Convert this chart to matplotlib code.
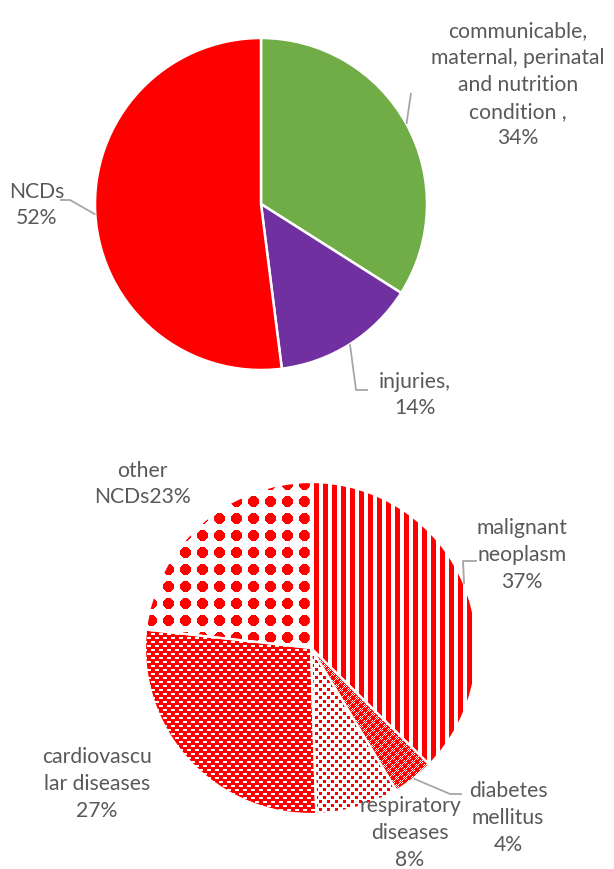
import numpy as np
import matplotlib
matplotlib.use('Agg')
import matplotlib.pyplot as plt
from matplotlib.patches import Polygon

# figure size in pixels, 1 data unit = 1 pixel
W, H = 614, 870

# top pie: all causes
top_labels = ['communicable,\nmaternal, perinatal\nand nutrition\ncondition ,\n34%',
              'injuries,\n14%',
              'NCDs\n52%']
top_values = [34, 14, 52]
top_colors = ['#70ad47', '#7030a0', '#ff0000']

# bottom pie: breakdown of NCDs
ncd_labels = ['malignant\nneoplasm\n37%',
              'diabetes\nmellitus\n4%',
              'respiratory\ndiseases\n8%',
              'cardiovascu\nlar diseases\n27%',
              'other\nNCDs23%']
ncd_values = [37, 4, 8, 27, 23]
ncd_patterns = ['stripes', 'checker', 'dots', 'dashes', 'diamonds']

# layout (screen pixels, y measured from top)
top_center, top_r = (261, 205), 166
ncd_center, ncd_r = (311, 649), 166
top_text_pos = [(518, 85), (415, 395), (37, 205)]
ncd_text_pos = [(522, 555), (508, 818), (410, 833), (97, 784), (142, 484)]
top_leaders = [[(411, 94)], [(356, 391), (368, 391)], [(70, 201), (60, 201)]]
ncd_leaders = [[(463, 562), (477, 562)], [(450, 795), (462, 795)], None, None, None]

TXT = '#595959'
LINE = '#a6a6a6'
FONT = ['Lato', 'DejaVu Sans']
FS = 15.2
LSP = 1.42


def Y(y):
    return H - y


def tile(kind):
    if kind == 'stripes':
        t = np.zeros((1, 9))
        t[0, :5] = 1
    elif kind == 'checker':
        t = np.zeros((8, 8))
        fine = (np.add.outer(np.arange(8), np.arange(8)) % 2 == 0)
        t[:] = fine
        t[:4, :4] = 1
        t[4:, 4:] = 1
    elif kind == 'dots':
        t = np.zeros((8, 8))
        t[0:3, 0:3] = 1
        t[4:7, 4:7] = 1
    elif kind == 'dashes':
        t = np.ones((8, 8))
        t[1:3, 0:4] = 0
        t[5:7, 4:8] = 0
    else:
        t = np.zeros((17, 17))
        yy, xx = np.mgrid[0:17, 0:17] - 8
        t[(np.abs(xx) + np.abs(yy) <= 7) & (np.maximum(np.abs(xx), np.abs(yy)) <= 5)] = 1
    return t


def wedge_poly(wedge, cx, cy, r):
    th = np.deg2rad(np.linspace(wedge.theta1, wedge.theta2, 200))
    pts = np.column_stack([cx + r * np.cos(th), cy + r * np.sin(th)])
    pts = np.vstack([[cx, cy], pts])
    return pts


def fill_pattern(ax, wedge, kind, cx, cy, r):
    t = tile(kind)
    x0, y0 = int(cx - r) - 2, int(cy - r) - 2
    size = int(2 * r) + 4
    ny = size // t.shape[0] + 2
    nx = size // t.shape[1] + 2
    big = np.tile(t, (ny, nx))
    rgb = np.ones(big.shape + (3,))
    rgb[big == 1] = (1.0, 0.0, 0.0)
    h, w = big.shape
    im = ax.imshow(rgb, extent=(x0, x0 + w, y0, y0 + h), origin='upper',
                   interpolation='nearest', zorder=2)
    clip = Polygon(wedge_poly(wedge, cx, cy, r), closed=True, transform=ax.transData)
    im.set_clip_path(clip)


def leader(ax, wedge, center, r, pts):
    cx, cy = center
    th = np.deg2rad((wedge.theta1 + wedge.theta2) / 2)
    xs = [cx + r * np.cos(th)] + [p[0] for p in pts]
    ys = [Y(cy) + r * np.sin(th)] + [Y(p[1]) for p in pts]
    ax.plot(xs, ys, color=LINE, lw=1.3, zorder=4, solid_capstyle='butt')


fig = plt.figure(figsize=(W / 100, H / 100), dpi=100)
ax = fig.add_axes([0, 0, 1, 1])

# top pie
wedges, _ = ax.pie(top_values, colors=top_colors, startangle=90, counterclock=False,
                   radius=top_r, center=(top_center[0], Y(top_center[1])),
                   wedgeprops=dict(edgecolor='white', linewidth=1.8))
for w, lab, pos, pts in zip(wedges, top_labels, top_text_pos, top_leaders):
    ax.text(pos[0], Y(pos[1]), lab, ha='center', va='center', multialignment='center',
            fontsize=FS, color=TXT, family=FONT, linespacing=LSP, zorder=5)
    if pts:
        leader(ax, w, top_center, top_r, pts)

# bottom pie with patterns
cx, cy = ncd_center[0], Y(ncd_center[1])
wedges, _ = ax.pie(ncd_values, colors=['white'] * len(ncd_values), startangle=90,
                   counterclock=False, radius=ncd_r, center=(cx, cy),
                   wedgeprops=dict(edgecolor='none', linewidth=0))
for w, kind in zip(wedges, ncd_patterns):
    fill_pattern(ax, w, kind, cx, cy, ncd_r)
edges, _ = ax.pie(ncd_values, colors=['none'] * len(ncd_values), startangle=90,
                  counterclock=False, radius=ncd_r, center=(cx, cy),
                  wedgeprops=dict(edgecolor='white', linewidth=1.6, zorder=3))
for w, lab, pos, pts in zip(wedges, ncd_labels, ncd_text_pos, ncd_leaders):
    ax.text(pos[0], Y(pos[1]), lab, ha='center', va='center', multialignment='center',
            fontsize=FS, color=TXT, family=FONT, linespacing=LSP, zorder=5)
    if pts:
        leader(ax, w, ncd_center, ncd_r, pts)

ax.set_xlim(0, W)
ax.set_ylim(0, H)
ax.set_aspect('equal')
ax.axis('off')

fig.savefig('out.png', dpi=100)
